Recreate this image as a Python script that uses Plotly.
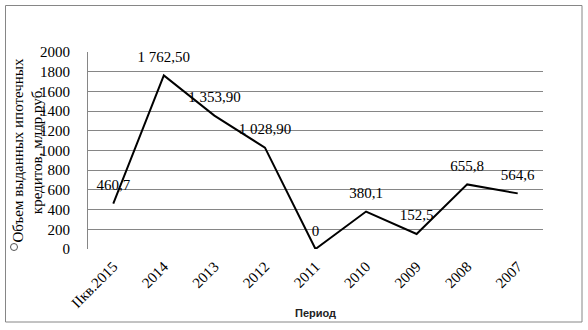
import plotly.graph_objects as go

periods = ["IIкв.2015", "2014", "2013", "2012", "2011", "2010", "2009", "2008", "2007"]
values = [460.7, 1762.5, 1353.9, 1028.9, 0, 380.1, 152.5, 655.8, 564.6]
labels = ["460,7", "1 762,50", "1 353,90", "1 028,90", "0", "380,1", "152,5", "655,8", "564,6"]
y_ticks = [0, 200, 400, 600, 800, 1000, 1200, 1400, 1600, 1800, 2000]

SERIF = "Liberation Serif, Times New Roman, serif"
GRID = "#868686"

W, H = 588, 330
L, R, T, B = 88, 543, 52, 249
pw, ph = R - L, B - T

def px(x):
    return (x - L) / pw

def py(y):
    return (B - y) / ph

fig = go.Figure()
fig.add_trace(go.Scatter(
    x=periods, y=values, mode="lines+markers+text",
    line=dict(color="black", width=2),
    marker=dict(size=14, color="rgba(0,0,0,0)", line=dict(width=0)),
    text=labels, textposition="top center",
    textfont=dict(family=SERIF, size=15, color="black"),
    cliponaxis=False, showlegend=False, hoverinfo="skip",
))

fig.update_layout(
    width=W, height=H,
    margin=dict(l=L, r=W - R, t=T, b=H - B, pad=0),
    paper_bgcolor="white", plot_bgcolor="white",
    showlegend=False,
    xaxis=dict(
        type="category", range=[-0.5, len(periods) - 0.5],
        showgrid=False, zeroline=False, showline=False,
        tickangle=-45, ticks="", ticklabelstandoff=5,
        tickfont=dict(family=SERIF, size=15, color="black"),
    ),
    yaxis=dict(
        range=[0, 2000], tickvals=y_ticks,
        showgrid=True, gridcolor=GRID, gridwidth=1,
        zeroline=False, showline=True, linecolor=GRID, linewidth=1,
        ticks="", ticklabelstandoff=14,
        tickfont=dict(family=SERIF, size=15, color="black"),
    ),
    shapes=[
        dict(type="rect", xref="paper", yref="paper",
             x0=px(5.5), x1=px(582), y0=py(322), y1=py(5.5),
             line=dict(color=GRID, width=1), fillcolor="rgba(0,0,0,0)", layer="below"),
        dict(type="circle", xref="paper", yref="paper",
             x0=px(10.5), x1=px(17.5), y0=py(250.5), y1=py(243.5),
             line=dict(color="#555555", width=1), fillcolor="white"),
    ],
    annotations=[
        dict(text="Объем выданных ипотечных<br>кредитов, млдр.руб.",
             xref="paper", yref="paper", x=px(27), y=0.5,
             xanchor="center", yanchor="middle", textangle=-90, showarrow=False,
             font=dict(family=SERIF, size=15, color="black")),
        dict(text="<b>Период</b>",
             xref="paper", yref="paper", x=0.5, y=py(313),
             xanchor="center", yanchor="middle", showarrow=False,
             font=dict(family="Liberation Sans, Arial, sans-serif", size=11, color="#222222")),
    ],
)

fig.write_html("out.html", config={"displayModeBar": False},
               post_script="document.body.style.margin='0';")
